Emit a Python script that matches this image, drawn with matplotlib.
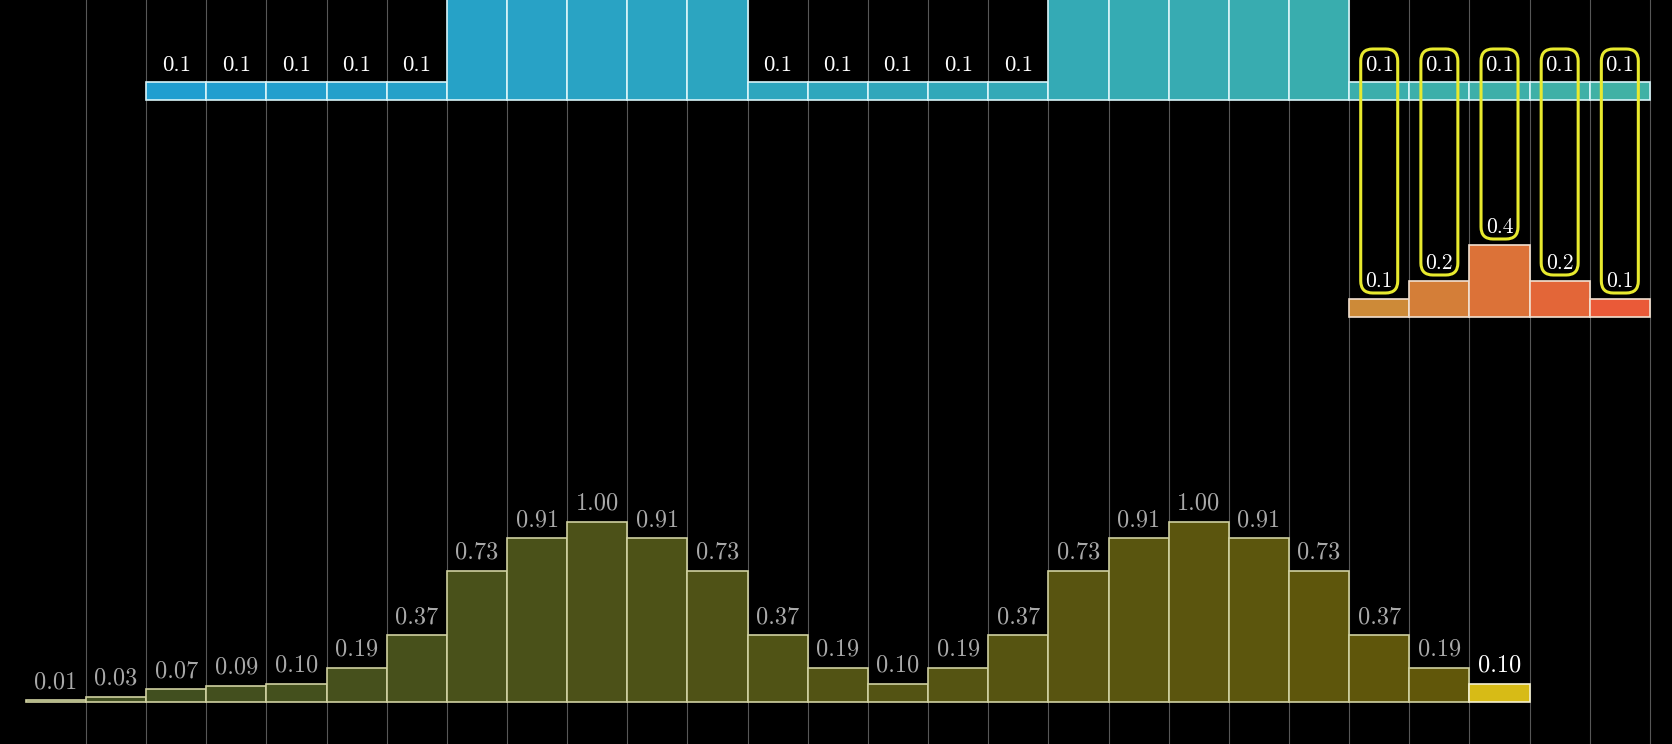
import numpy as np
import matplotlib
matplotlib.use("Agg")
import matplotlib.pyplot as plt
from matplotlib.patches import FancyBboxPatch
from matplotlib.colors import to_rgb

# Input signal (one value per column), smoothing kernel and the running output
signal = [0.0, 0.0, 0.1, 0.1, 0.1, 0.1, 0.1, 1.0, 1.0, 1.0, 1.0, 1.0,
          0.1, 0.1, 0.1, 0.1, 0.1, 1.0, 1.0, 1.0, 1.0, 1.0,
          0.1, 0.1, 0.1, 0.1, 0.1]
kernel = [0.1, 0.2, 0.4, 0.2, 0.1]
kernel_start = 22
output = [0.01, 0.03, 0.07, 0.09, 0.10, 0.19, 0.37, 0.73, 0.91, 1.00, 0.91,
          0.73, 0.37, 0.19, 0.10, 0.19, 0.37, 0.73, 0.91, 1.00, 0.91, 0.73,
          0.37, 0.19, 0.10]
current = 24  # output cell being computed

W, H, DPI = 1672, 744, 100
COL = 60.15      # pixels per column
UNIT = 180.0     # pixels per unit of value
X_LINE0 = 86.0   # pixel position of the first column divider

fig = plt.figure(figsize=(W / DPI, H / DPI), dpi=DPI, facecolor="black")
ax = fig.add_axes([0, 0, 1, 1])
ax.set_facecolor("black")
ax.set_xlim(0.5 - X_LINE0 / COL, 0.5 + (W - X_LINE0) / COL)
ax.set_ylim(0, H / UNIT)
ax.axis("off")

def ypix(p):
    return (H - p) / UNIT

base_out = ypix(702)
base_ker = ypix(317)
base_sig = ypix(100)

def blend(c0, c1, n):
    a, b = np.array(to_rgb(c0)), np.array(to_rgb(c1))
    return [tuple(a + (b - a) * t) for t in np.linspace(0, 1, n)]

FONT = "cmr10"

# column dividers
for k in range(len(signal)):
    ax.axvline(k + 0.5, color="#575757", lw=0.8, zorder=0)

# input signal row
sig_x = np.arange(len(signal))
sig_cols = blend("#1d9cd4", "#40b1a5", len(signal))
for x, v, c in zip(sig_x, signal, sig_cols):
    if v <= 0:
        continue
    ax.bar(x, v, width=1.0, bottom=base_sig, color=c, edgecolor="#d8f4f8",
           linewidth=1.2, zorder=2)
    if v < 0.5:
        ax.text(x, base_sig + v + 11 / UNIT, f"{v:.1f}", color="white",
                fontsize=16.5, family=FONT, ha="center", va="baseline", zorder=4)

# kernel row
ker_x = np.arange(kernel_start, kernel_start + len(kernel))
ker_cols = blend("#cd8a38", "#ea5a38", len(kernel))
ax.bar(ker_x, kernel, width=1.0, bottom=base_ker, color=ker_cols,
       edgecolor="#f2e0d0", linewidth=1.2, zorder=2)
for x, v in zip(ker_x, kernel):
    ax.text(x, base_ker + v + 12 / UNIT, f"{v:.1f}", color="white",
            fontsize=15.5, family=FONT, ha="center", va="baseline", zorder=4)

# highlight boxes pairing each kernel weight with its signal value
half_w = 18.5 / COL
top_box = ypix(49)
for x, v in zip(ker_x, kernel):
    y0 = base_ker + v + 6 / UNIT
    box = FancyBboxPatch((x - half_w, y0), 2 * half_w, top_box - y0,
                         boxstyle="round,pad=0,rounding_size=0.2",
                         mutation_aspect=COL / UNIT, facecolor="none",
                         edgecolor="#e8ea2e", linewidth=2.2, zorder=5)
    ax.add_patch(box)

# output row
out_x = np.arange(len(output))
out_cols = blend("#3e4e21", "#625709", len(output))
for x, v, c in zip(out_x, output, out_cols):
    hot = x == current
    ax.bar(x, v, width=1.0, bottom=base_out,
           color="#d7bb16" if hot else c,
           edgecolor="#f4f0d0" if hot else "#cfd0a0",
           linewidth=1.2, zorder=3 if hot else 2)
    ax.text(x, base_out + v + 12 / UNIT, f"{v:.2f}",
            color="white" if hot else "#a9a9a9",
            fontsize=17.5, family=FONT, ha="center", va="baseline", zorder=4)

fig.savefig("out.png", dpi=DPI, facecolor="black")
